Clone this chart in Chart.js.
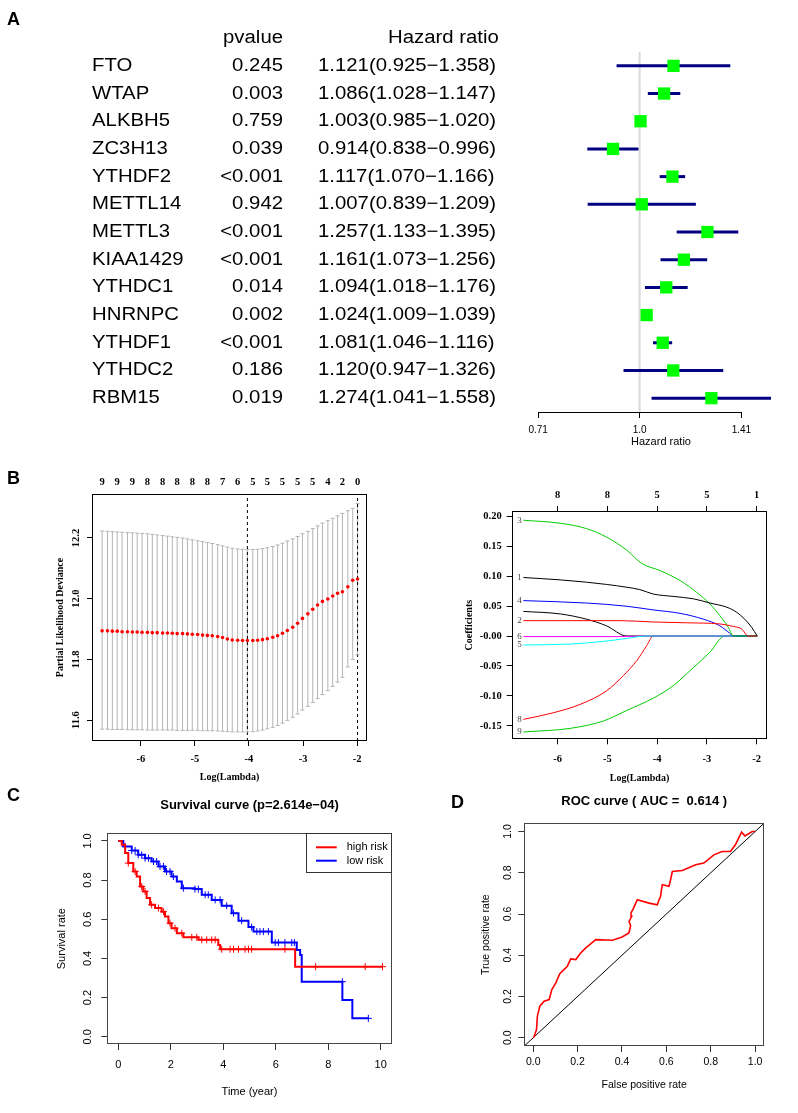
<!DOCTYPE html>
<html>
<head>
<meta charset="utf-8">
<script src="https://cdn.jsdelivr.net/npm/chart.js@4.4.1/dist/chart.umd.min.js"></script>
<style>
  html, body { margin: 0; padding: 0; background: #fff; }
  #fig { position: relative; width: 798px; height: 1113px; overflow: hidden; }
  canvas { position: absolute; }
  .tag { position: absolute; font: bold 18px "Liberation Sans", Arial, sans-serif; line-height: 18px; color: #000; }
</style>
</head>
<body>
<div id="fig">
  <canvas id="forest" width="798" height="460" style="left:0;top:0"></canvas>
  <canvas id="cv" width="400" height="325" style="left:0;top:465px"></canvas>
  <canvas id="coef" width="398" height="325" style="left:400px;top:465px"></canvas>
  <canvas id="surv" width="400" height="323" style="left:0;top:790px"></canvas>
  <canvas id="roc" width="398" height="323" style="left:400px;top:790px"></canvas>
  <div class="tag" style="left:7px;top:10px">A</div>
  <div class="tag" style="left:7px;top:469px">B</div>
  <div class="tag" style="left:7px;top:786px">C</div>
  <div class="tag" style="left:451px;top:793px">D</div>
</div>
<script>
// ---- A: univariate cox ----
const genes = ['FTO', 'WTAP', 'ALKBH5', 'ZC3H13', 'YTHDF2', 'METTL14', 'METTL3', 'KIAA1429', 'YTHDC1', 'HNRNPC', 'YTHDF1', 'YTHDC2', 'RBM15'];
const pvals = ['0.245', '0.003', '0.759', '0.039', '<0.001', '0.942', '<0.001', '<0.001', '0.014', '0.002', '<0.001', '0.186', '0.019'];
const hr     = [1.121, 1.086, 1.003, 0.914, 1.117, 1.007, 1.257, 1.161, 1.094, 1.024, 1.081, 1.120, 1.274];
const hrLow  = [0.925, 1.028, 0.985, 0.838, 1.070, 0.839, 1.133, 1.073, 1.018, 1.009, 1.046, 0.947, 1.041];
const hrHigh = [1.358, 1.147, 1.020, 0.996, 1.166, 1.209, 1.395, 1.256, 1.176, 1.039, 1.116, 1.326, 1.558];
const hrTicks = [0.71, 1.0, 1.41];
const hrTickLabels = ['0.71', '1.0', '1.41'];

// ---- B left: cv.glmnet ----
const cvLogLambda = [-6.72, -6.62, -6.53, -6.44, -6.35, -6.25, -6.16, -6.07, -5.98, -5.88,
  -5.79, -5.70, -5.60, -5.51, -5.42, -5.33, -5.23, -5.14, -5.05, -4.95,
  -4.86, -4.77, -4.68, -4.58, -4.49, -4.40, -4.31, -4.21, -4.12, -4.03,
  -3.93, -3.84, -3.75, -3.66, -3.56, -3.47, -3.38, -3.29, -3.19, -3.10,
  -3.01, -2.91, -2.82, -2.73, -2.64, -2.54, -2.45, -2.36, -2.27, -2.17, -2.08, -1.99];
const cvMean = [11.894, 11.894, 11.893, 11.893, 11.891, 11.891, 11.890, 11.890, 11.889, 11.889,
  11.888, 11.888, 11.887, 11.887, 11.886, 11.885, 11.885, 11.884, 11.883, 11.882,
  11.880, 11.879, 11.878, 11.875, 11.872, 11.867, 11.864, 11.863, 11.862, 11.862,
  11.862, 11.863, 11.865, 11.868, 11.873, 11.878, 11.886, 11.895, 11.906, 11.919,
  11.935, 11.950, 11.965, 11.979, 11.991, 11.999, 12.009, 12.018, 12.023, 12.039, 12.061, 12.065];
const cvUpper = [12.223, 12.222, 12.221, 12.220, 12.219, 12.218, 12.217, 12.216, 12.215, 12.214,
  12.212, 12.210, 12.208, 12.206, 12.204, 12.202, 12.200, 12.197, 12.194, 12.191,
  12.188, 12.185, 12.182, 12.178, 12.174, 12.170, 12.166, 12.164, 12.163, 12.162,
  12.162, 12.163, 12.165, 12.168, 12.172, 12.177, 12.183, 12.190, 12.197, 12.205,
  12.214, 12.222, 12.231, 12.240, 12.249, 12.257, 12.265, 12.273, 12.281, 12.290, 12.298, 12.314];
const cvLower = [11.570, 11.570, 11.569, 11.569, 11.569, 11.568, 11.568, 11.568, 11.568, 11.567,
  11.567, 11.567, 11.567, 11.567, 11.567, 11.566, 11.566, 11.566, 11.566, 11.566,
  11.565, 11.565, 11.565, 11.564, 11.563, 11.562, 11.561, 11.561, 11.561, 11.561,
  11.562, 11.564, 11.567, 11.571, 11.576, 11.582, 11.590, 11.599, 11.609, 11.620,
  11.633, 11.645, 11.658, 11.671, 11.684, 11.697, 11.711, 11.725, 11.741, 11.775, 11.800, 11.815];
const cvTopAt = [-6.72, -6.44, -6.16, -5.88, -5.60, -5.33, -5.05, -4.77, -4.49, -4.21, -3.93, -3.66, -3.38, -3.10, -2.82, -2.54, -2.27, -1.99];
const cvTopLabels = ['9', '9', '9', '8', '8', '8', '8', '8', '7', '6', '5', '5', '5', '5', '5', '4', '2', '0'];
const cvLambdaMin = -4.03;
const cvLambda1se = -1.99;
const cvYRange = [11.531, 12.345];
const cvYTicks = [11.6, 11.8, 12.0, 12.2];
const lambdaTicks = [-6, -5, -4, -3, -2];
const lambdaTickLabels = ['-6', '-5', '-4', '-3', '-2'];

// ---- B right: coefficient paths ----
const coef1 = [[-6.69, 0.0975], [-5.95, 0.0936], [-5.42, 0.0897], [-5.02, 0.086], [-4.61, 0.0813], [-4.35, 0.0774], [-4.08, 0.070], [-3.68, 0.066], [-3.27, 0.062], [-2.94, 0.055], [-2.60, 0.048], [-2.40, 0.0395], [-2.24, 0.028], [-2.10, 0.0145], [-1.99, 0]];
const coef2 = [[-6.69, 0.0256], [-4.75, 0.0256], [-4.08, 0.0234], [-3.41, 0.022], [-2.74, 0.0201], [-2.47, 0.016], [-2.30, 0.0117], [-2.17, 0], [-1.99, 0]];
const coef3 = [[-6.69, 0.193], [-5.95, 0.188], [-5.42, 0.179], [-5.02, 0.165], [-4.61, 0.143], [-4.31, 0.121], [-3.94, 0.109], [-3.54, 0.0925], [-3.21, 0.073], [-2.94, 0.0535], [-2.74, 0.034], [-2.57, 0.0145], [-2.47, 0], [-1.99, 0]];
const coef4 = [[-6.69, 0.059], [-5.42, 0.055], [-4.61, 0.0496], [-4.08, 0.0435], [-3.54, 0.0378], [-3.07, 0.028], [-2.74, 0.017], [-2.54, 0.0045], [-2.47, 0], [-1.99, 0]];
const coef5 = [[-6.69, -0.015], [-5.75, -0.0134], [-5.08, -0.009], [-4.61, -0.004], [-4.21, 0], [-1.99, 0]];
const coef6 = [[-6.69, -0.001], [-4.75, -0.001], [-4.21, 0], [-1.99, 0]];
const coef7 = [[-6.69, 0.041], [-5.95, 0.0368], [-5.42, 0.028], [-5.02, 0.017], [-4.61, 0], [-1.99, 0]];
const coef8 = [[-6.69, -0.139], [-6.09, -0.128], [-5.55, -0.114], [-5.02, -0.0915], [-4.68, -0.066], [-4.41, -0.041], [-4.21, -0.016], [-4.08, 0], [-1.99, 0]];
const coef9 = [[-6.69, -0.160], [-5.75, -0.154], [-5.08, -0.1416], [-4.61, -0.124], [-4.08, -0.1037], [-3.68, -0.083], [-3.27, -0.0525], [-2.94, -0.027], [-2.64, 0], [-1.99, 0]];
const coefPaths = [coef1, coef2, coef3, coef4, coef5, coef6, coef7, coef8, coef9];
const coefColors = ['#000000', '#FF0000', '#00CD00', '#0000FF', '#00FFFF', '#FF00FF', '#000000', '#FF0000', '#00CD00'];
const coefLabels = ['1', '2', '3', '4', '5', '6', '', '8', '9'];
const coefTopLabels = ['8', '8', '5', '5', '1'];
const coefYTicks = [-0.15, -0.10, -0.05, 0, 0.05, 0.10, 0.15, 0.20];
const coefYLabels = ['-0.15', '-0.10', '-0.05', '-0.00', '0.05', '0.10', '0.15', '0.20'];

// ---- C: Kaplan-Meier ----
const highT = [0, 0.13, 0.26, 0.38, 0.57, 0.70, 0.83, 0.95, 1.08, 1.21, 1.40, 1.65, 1.78, 1.91, 2.03, 2.23, 2.48, 3.05, 3.81, 3.88, 6.74, 10.07];
const highS = [1.0, 0.980, 0.938, 0.887, 0.844, 0.818, 0.767, 0.742, 0.708, 0.674, 0.657, 0.639, 0.614, 0.580, 0.554, 0.529, 0.508, 0.495, 0.469, 0.447, 0.358, 0.358];
const lowT = [0, 0.19, 0.51, 0.76, 1.02, 1.27, 1.53, 1.78, 2.03, 2.23, 2.42, 2.92, 3.18, 3.56, 3.94, 4.32, 4.58, 4.96, 5.15, 5.85, 6.80, 6.93, 6.99, 8.54, 8.92, 9.53];
const lowS = [1.0, 0.972, 0.951, 0.929, 0.912, 0.895, 0.870, 0.844, 0.818, 0.793, 0.759, 0.754, 0.725, 0.699, 0.669, 0.631, 0.593, 0.560, 0.537, 0.481, 0.443, 0.418, 0.281, 0.188, 0.094, 0.094];
const highCensT = [0.38, 0.64, 0.89, 1.02, 1.27, 1.53, 1.72, 1.97, 2.16, 2.42, 2.80, 2.99, 3.18, 3.37, 3.56, 3.69, 3.94, 4.26, 4.39, 4.58, 4.83, 4.96, 5.08, 6.35, 7.52, 9.41, 10.07];
const highCensS = [0.887, 0.844, 0.767, 0.742, 0.674, 0.657, 0.639, 0.580, 0.554, 0.529, 0.508, 0.508, 0.495, 0.495, 0.495, 0.495, 0.447, 0.447, 0.447, 0.447, 0.447, 0.447, 0.447, 0.447, 0.358, 0.358, 0.358];
const lowCensT = [0.26, 0.51, 0.64, 0.76, 0.89, 1.02, 1.15, 1.34, 1.46, 1.59, 1.72, 1.84, 1.97, 2.10, 2.48, 2.92, 3.05, 3.31, 3.43, 3.69, 3.88, 4.13, 4.39, 4.70, 5.08, 5.28, 5.40, 5.53, 5.72, 5.98, 6.10, 6.35, 6.61, 6.71, 8.54, 9.53];
const lowCensS = [0.972, 0.951, 0.951, 0.929, 0.929, 0.912, 0.912, 0.895, 0.895, 0.870, 0.870, 0.844, 0.844, 0.818, 0.759, 0.754, 0.754, 0.725, 0.725, 0.699, 0.699, 0.669, 0.631, 0.593, 0.560, 0.537, 0.537, 0.537, 0.537, 0.481, 0.481, 0.481, 0.481, 0.481, 0.281, 0.094];
const survXTicks = [0, 2, 4, 6, 8, 10];
const unitTicks = [0, 0.2, 0.4, 0.6, 0.8, 1.0];
const unitTickLabels = ['0.0', '0.2', '0.4', '0.6', '0.8', '1.0'];

// ---- D: ROC ----
const rocFpr = [0, 0.004, 0.015, 0.019, 0.030, 0.049, 0.072, 0.084, 0.102, 0.120, 0.154, 0.169, 0.192, 0.214, 0.237, 0.267, 0.282, 0.357, 0.401, 0.431,
  0.435, 0.439, 0.432, 0.444, 0.441, 0.450, 0.469, 0.522, 0.559, 0.567, 0.574, 0.578, 0.582, 0.612, 0.619, 0.627, 0.672, 0.732, 0.769, 0.814,
  0.851, 0.889, 0.911, 0.939, 0.954, 0.987, 1.0];
const rocTpr = [0, 0.005, 0.040, 0.105, 0.153, 0.177, 0.185, 0.234, 0.266, 0.311, 0.347, 0.382, 0.379, 0.411, 0.436, 0.463, 0.476, 0.473, 0.489, 0.508,
  0.524, 0.544, 0.564, 0.589, 0.605, 0.624, 0.669, 0.653, 0.645, 0.669, 0.685, 0.718, 0.742, 0.734, 0.766, 0.806, 0.811, 0.839, 0.847, 0.887,
  0.903, 0.903, 0.936, 0.997, 0.979, 1.0, 1.0];

const SANS = '"Liberation Sans", Arial, sans-serif';
const SERIF = '"Liberation Serif", "Times New Roman", serif';
Chart.defaults.font.family = SANS;
Chart.defaults.color = '#000';
Chart.defaults.animation = false;
Chart.defaults.plugins.legend.display = false;
Chart.defaults.plugins.tooltip.enabled = false;

const el = id => document.getElementById(id);
const setTicks = vals => s => { s.ticks = vals.map(v => ({ value: v })); };
const serifB = size => ({ family: SERIF, size, weight: 'bold' });
const sans = (size, weight) => ({ family: SANS, size, weight });

// R-like box, rotated y labels, path labels
const rStyle = {
  id: 'rstyle',
  afterDraw(chart, args, o) {
    const { ctx, chartArea: a } = chart;
    ctx.save();
    if (o.frame) {
      ctx.strokeStyle = o.frame;
      ctx.lineWidth = 1;
      ctx.strokeRect(Math.round(a.left) + 0.5, Math.round(a.top) + 0.5,
        Math.round(a.right) - Math.round(a.left) - 1, Math.round(a.bottom) - Math.round(a.top) - 1);
    }
    if (o.yLabels) {
      const s = chart.scales.y;
      ctx.font = o.yFont;
      ctx.fillStyle = '#000';
      ctx.textAlign = 'center';
      ctx.textBaseline = 'middle';
      s.ticks.forEach((t, i) => {
        ctx.save();
        ctx.translate(a.left - o.yOffset, s.getPixelForValue(t.value));
        ctx.rotate(-Math.PI / 2);
        ctx.fillText(o.yLabels[i], 0, 0);
        ctx.restore();
      });
    }
    if (o.pathLabels) {
      ctx.font = o.pathFont;
      ctx.fillStyle = '#444';
      ctx.textAlign = 'center';
      ctx.textBaseline = 'middle';
      chart.data.datasets.forEach((d, i) => {
        if (!d.pathLabel) return;
        const p = chart.getDatasetMeta(i).data[0];
        ctx.fillText(d.pathLabel, p.x - 4, p.y);
      });
    }
    ctx.restore();
  }
};

// ---- A ----
const tablePlugin = {
  id: 'table',
  afterDraw(chart) {
    const { ctx, chartArea: a } = chart;
    const y = chart.scales.y, x = chart.scales.x;
    ctx.save();
    // axis line between first and last tick
    ctx.strokeStyle = '#000';
    ctx.lineWidth = 1;
    ctx.beginPath();
    ctx.moveTo(x.getPixelForValue(hrTicks[0]), Math.round(a.bottom) + 0.5);
    ctx.lineTo(x.getPixelForValue(hrTicks[hrTicks.length - 1]), Math.round(a.bottom) + 0.5);
    ctx.stroke();

    ctx.fillStyle = '#000';
    ctx.font = '18px ' + SANS;
    ctx.textBaseline = 'middle';
    const put = (txt, px, py, align) => {
      ctx.save();
      ctx.translate(px, py);
      ctx.scale(1.13, 1);
      ctx.textAlign = align;
      ctx.fillText(txt, 0, 0);
      ctx.restore();
    };
    const head = y.getPixelForValue(-1);
    put('pvalue', 283, head, 'right');
    put('Hazard ratio', 388, head, 'left');
    genes.forEach((g, i) => {
      const py = y.getPixelForValue(i);
      put(g, 92, py, 'left');
      put(pvals[i], 283, py, 'right');
      put(hr[i].toFixed(3) + '(' + hrLow[i].toFixed(3) + '\u2212' + hrHigh[i].toFixed(3) + ')', 318, py, 'left');
    });
    ctx.restore();
  }
};

new Chart(el('forest'), {
  type: 'scatter',
  data: {
    datasets: [
      {
        data: genes.map((g, i) => ({ x: hr[i], y: i })),
        pointStyle: 'rect', pointRadius: 8.7, backgroundColor: '#00FF00', borderWidth: 0, order: 0
      },
      ...genes.map((g, i) => ({
        type: 'line', data: [{ x: hrLow[i], y: i }, { x: hrHigh[i], y: i }],
        borderColor: '#000080', borderWidth: 3, pointRadius: 0, order: 1
      })),
      {
        type: 'line', data: [{ x: 1, y: -0.5 }, { x: 1, y: 12.5 }],
        borderColor: '#d9d9d9', borderWidth: 2, pointRadius: 0, order: 2
      }
    ]
  },
  options: {
    responsive: false, devicePixelRatio: 1, events: [],
    layout: { padding: { left: 534, right: 10, top: 52, bottom: 11 } },
    scales: {
      x: {
        type: 'logarithmic', min: 0.71, max: 1.65,
        afterBuildTicks: setTicks(hrTicks),
        afterFit: s => { s.height = 37; },
        border: { display: false },
        grid: { drawOnChartArea: false, tickLength: 6, color: '#000' },
        ticks: { font: sans(10), padding: 6, autoSkip: false, maxRotation: 0, callback: (v, i) => hrTickLabels[i] },
        title: { display: true, text: 'Hazard ratio', font: sans(11), padding: { top: 0, bottom: 0 } }
      },
      y: { type: 'linear', display: false, reverse: true, min: -0.5, max: 12.5 }
    }
  },
  plugins: [tablePlugin]
});

// ---- B left ----
new Chart(el('cv'), {
  type: 'scatter',
  data: {
    datasets: [
      { data: cvLogLambda.map((x, i) => ({ x, y: cvMean[i] })), pointRadius: 1.8, backgroundColor: '#FF0000', borderWidth: 0, order: 0 },
      {
        type: 'line', data: cvLogLambda.flatMap((x, i) => [{ x, y: cvLower[i] }, { x, y: cvUpper[i] }, { x, y: null }]),
        borderColor: '#b4b4b4', borderWidth: 1, pointRadius: 0, spanGaps: false, order: 2
      },
      { data: cvLogLambda.map((x, i) => ({ x, y: cvUpper[i] })), pointStyle: 'line', pointRadius: 2, borderColor: '#b4b4b4', borderWidth: 1, order: 1 },
      { data: cvLogLambda.map((x, i) => ({ x, y: cvLower[i] })), pointStyle: 'line', pointRadius: 2, borderColor: '#b4b4b4', borderWidth: 1, order: 1 },
      { type: 'line', data: cvYRange.map(y => ({ x: cvLambdaMin, y })), borderColor: '#000', borderWidth: 1, borderDash: [3, 3], pointRadius: 0, order: 1 },
      { type: 'line', data: cvYRange.map(y => ({ x: cvLambda1se, y })), borderColor: '#000', borderWidth: 1, borderDash: [3, 3], pointRadius: 0, order: 1 }
    ]
  },
  options: {
    responsive: false, devicePixelRatio: 1, events: [],
    layout: { padding: { left: 0, right: 33, top: 0, bottom: 0 } },
    scales: {
      x: {
        type: 'linear', min: -6.907, max: -1.815,
        afterBuildTicks: setTicks(lambdaTicks),
        afterFit: s => { s.height = 49; },
        border: { display: false },
        grid: { drawOnChartArea: false, tickLength: 5, color: '#000' },
        ticks: { font: serifB(10.5), padding: 7, maxRotation: 0, callback: (v, i) => lambdaTickLabels[i] },
        title: { display: true, text: 'Log(Lambda)', font: serifB(10), padding: { top: 0, bottom: 7 } }
      },
      x2: {
        type: 'linear', axis: 'x', position: 'top', min: -6.907, max: -1.815,
        afterBuildTicks: setTicks(cvTopAt),
        afterFit: s => { s.height = 29; },
        border: { display: false },
        grid: { display: false, drawTicks: false },
        ticks: { font: serifB(10.5), padding: 5, autoSkip: false, maxRotation: 0, callback: (v, i) => cvTopLabels[i] }
      },
      y: {
        type: 'linear', min: cvYRange[0], max: cvYRange[1],
        afterBuildTicks: setTicks(cvYTicks),
        afterFit: s => { s.width = 92; },
        border: { display: false },
        grid: { drawOnChartArea: false, tickLength: 5, color: '#000' },
        ticks: { display: false },
        title: { display: true, text: 'Partial Likelihood Deviance', font: serifB(10), padding: { top: 54, bottom: 0 } }
      }
    },
    plugins: {
      rstyle: { frame: '#000', yLabels: cvYTicks.map(v => v.toFixed(1)), yFont: 'bold 10.5px ' + SERIF, yOffset: 16 }
    }
  },
  plugins: [rStyle]
});

// ---- B right ----
new Chart(el('coef'), {
  type: 'line',
  data: {
    datasets: coefPaths.map((p, k) => ({
      data: p.map(([x, y]) => ({ x, y })),
      borderColor: coefColors[k], borderWidth: 1, pointRadius: 0,
      cubicInterpolationMode: 'monotone', pathLabel: coefLabels[k]
    }))
  },
  options: {
    responsive: false, devicePixelRatio: 1, events: [],
    layout: { padding: { left: 0, right: 30.7, top: 0, bottom: 0 } },
    scales: {
      x: {
        type: 'linear', min: -6.925, max: -1.786,
        afterBuildTicks: setTicks(lambdaTicks),
        afterFit: s => { s.height = 50.7; },
        border: { display: false },
        grid: { drawOnChartArea: false, tickLength: 5, color: '#000' },
        ticks: { font: serifB(10.5), padding: 9, maxRotation: 0, callback: (v, i) => lambdaTickLabels[i] },
        title: { display: true, text: 'Log(Lambda)', font: serifB(10), padding: { top: 0, bottom: 5.7 } }
      },
      x2: {
        type: 'linear', axis: 'x', position: 'top', min: -6.925, max: -1.786,
        afterBuildTicks: setTicks(lambdaTicks),
        afterFit: s => { s.height = 46; },
        border: { display: false },
        grid: { drawOnChartArea: false, tickLength: 5, color: '#000' },
        ticks: { font: serifB(10.5), padding: 4, maxRotation: 0, callback: (v, i) => coefTopLabels[i] }
      },
      y: {
        type: 'linear', min: -0.1722, max: 0.2084,
        afterBuildTicks: setTicks(coefYTicks),
        afterFit: s => { s.width = 111.7; },
        border: { display: false },
        grid: { drawOnChartArea: false, tickLength: 5, color: '#000' },
        ticks: { font: serifB(10.5), padding: 5, callback: (v, i) => coefYLabels[i] },
        title: { display: true, text: 'Coefficients', font: serifB(10), padding: { top: 63, bottom: 0 } }
      }
    },
    plugins: {
      rstyle: { frame: '#000', pathLabels: true, pathFont: '9px ' + SERIF }
    }
  },
  plugins: [rStyle]
});

// ---- C ----
const boxLegend = {
  id: 'boxLegend',
  afterDraw(chart, args, o) {
    const { ctx, chartArea: a } = chart;
    const items = chart.data.datasets.filter(d => d.inLegend);
    const x0 = a.right - o.width, y0 = a.top;
    ctx.save();
    ctx.fillStyle = '#fff';
    ctx.fillRect(x0, y0, o.width, o.height);
    ctx.strokeStyle = '#333';
    ctx.lineWidth = 1;
    ctx.strokeRect(Math.round(x0) + 0.5, Math.round(y0) + 0.5, Math.round(o.width) - 1, Math.round(o.height));
    ctx.font = o.font;
    ctx.textBaseline = 'middle';
    ctx.textAlign = 'left';
    items.forEach((d, k) => {
      const yy = y0 + o.rowTop + k * o.rowGap;
      ctx.strokeStyle = d.borderColor;
      ctx.lineWidth = 2;
      ctx.beginPath();
      ctx.moveTo(x0 + 10, yy);
      ctx.lineTo(x0 + 30.7, yy);
      ctx.stroke();
      ctx.fillStyle = '#000';
      ctx.fillText(d.label, x0 + 40.7, yy);
    });
    ctx.restore();
  }
};

new Chart(el('surv'), {
  type: 'line',
  data: {
    datasets: [
      { label: 'high risk', inLegend: true, data: highT.map((t, i) => ({ x: t, y: highS[i] })), stepped: 'before', borderColor: '#FF0000', borderWidth: 2, pointRadius: 0 },
      { label: 'low risk', inLegend: true, data: lowT.map((t, i) => ({ x: t, y: lowS[i] })), stepped: 'before', borderColor: '#0000FF', borderWidth: 2, pointRadius: 0 },
      { type: 'scatter', data: highCensT.map((t, i) => ({ x: t, y: highCensS[i] })), pointStyle: 'cross', pointRadius: 3.5, borderColor: '#FF0000', borderWidth: 1 },
      { type: 'scatter', data: lowCensT.map((t, i) => ({ x: t, y: lowCensS[i] })), pointStyle: 'cross', pointRadius: 3.5, borderColor: '#0000FF', borderWidth: 1 }
    ]
  },
  options: {
    responsive: false, devicePixelRatio: 1, events: [],
    layout: { padding: { left: 0, right: 8.3, top: 0, bottom: 0 } },
    scales: {
      x: {
        type: 'linear', min: -0.42, max: 10.42,
        afterBuildTicks: setTicks(survXTicks),
        afterFit: s => { s.height = 69; },
        border: { display: false },
        grid: { drawOnChartArea: false, tickLength: 6, color: '#333' },
        ticks: { font: sans(11), padding: 8, maxRotation: 0, callback: (v, i) => String(survXTicks[i]) },
        title: { display: true, text: 'Time (year)', font: sans(11), padding: { top: 0, bottom: 14 } }
      },
      y: {
        type: 'linear', min: -0.037, max: 1.039,
        afterBuildTicks: setTicks(unitTicks),
        afterFit: s => { s.width = 107.3; },
        border: { display: false },
        grid: { drawOnChartArea: false, tickLength: 6, color: '#333' },
        ticks: { display: false },
        title: { display: true, text: 'Survival rate', font: sans(11), padding: { top: 55, bottom: 0 } }
      }
    },
    plugins: {
      title: { display: true, text: 'Survival curve (p=2.614e\u221204)', font: sans(13, 'bold'), fullSize: false, padding: { top: 8, bottom: 19.7 } },
      rstyle: { frame: '#444', yLabels: unitTickLabels, yFont: '11px ' + SANS, yOffset: 19 },
      boxLegend: { width: 85.7, height: 39.4, rowTop: 14, rowGap: 13.4, font: '11px ' + SANS }
    }
  },
  plugins: [rStyle, boxLegend]
});

// ---- D ----
new Chart(el('roc'), {
  type: 'line',
  data: {
    datasets: [
      { data: rocFpr.map((x, i) => ({ x, y: rocTpr[i] })), borderColor: '#FF0000', borderWidth: 1.6, pointRadius: 0, order: 0 },
      { data: [{ x: -0.04, y: -0.04 }, { x: 1.04, y: 1.04 }], borderColor: '#000', borderWidth: 1, pointRadius: 0, order: 1 }
    ]
  },
  options: {
    responsive: false, devicePixelRatio: 1, events: [],
    layout: { padding: { left: 0, right: 34, top: 0, bottom: 0 } },
    scales: {
      x: {
        type: 'linear', min: -0.04, max: 1.04,
        afterBuildTicks: setTicks(unitTicks),
        afterFit: s => { s.height = 67; },
        border: { display: false },
        grid: { drawOnChartArea: false, tickLength: 6, color: '#333' },
        ticks: { font: sans(10.5), padding: 4, maxRotation: 0, callback: (v, i) => unitTickLabels[i] },
        title: { display: true, text: 'False positive rate', font: sans(10.5), padding: { top: 0, bottom: 22 } }
      },
      y: {
        type: 'linear', min: -0.04, max: 1.04,
        afterBuildTicks: setTicks(unitTicks),
        afterFit: s => { s.width = 124.3; },
        border: { display: false },
        grid: { drawOnChartArea: false, tickLength: 6, color: '#333' },
        ticks: { display: false },
        title: { display: true, text: 'True positive rate', font: sans(10.5), padding: { top: 80, bottom: 0 } }
      }
    },
    plugins: {
      title: { display: true, text: 'ROC curve ( AUC =  0.614 )', font: sans(13, 'bold'), fullSize: false, padding: { top: 3.9, bottom: 13.8 } },
      rstyle: { frame: '#444', yLabels: unitTickLabels, yFont: '10.5px ' + SANS, yOffset: 16 }
    }
  },
  plugins: [rStyle]
});
</script>
</body>
</html>
